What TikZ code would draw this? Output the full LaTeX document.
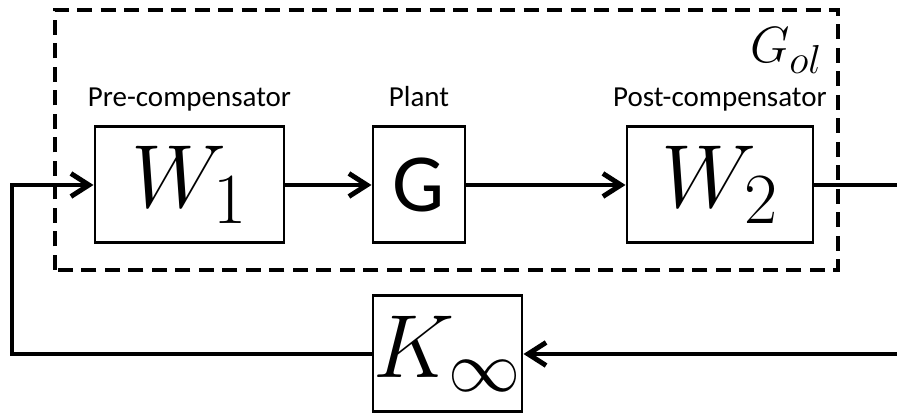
\RequirePackage{fix-cm}
\documentclass[tikz,border=0pt]{standalone}
\usepackage{amsmath}
\usepackage{fontspec}
\setmainfont{Carlito}
\usepackage{tikz}
\usetikzlibrary{positioning,arrows.meta,calc}
\definecolor{wirecol}{HTML}{000000}
\DeclareMathSizes{51}{51}{41}{33}
\DeclareMathSizes{29}{29}{23}{18}

\begin{document}
\begin{tikzpicture}[
        block/.style={rectangle, draw=wirecol, line width=1.7pt,
          minimum height=2.32cm, inner sep=0pt},
        bigmath/.style={font=\fontsize{51}{55}\selectfont},
        caption/.style={font=\fontsize{16.5}{18}\selectfont, anchor=base},
        wire/.style={draw=wirecol, line width=2.8pt},
        arr/.style={wire, -{Straight Barb[length=3.6mm, width=4.6mm]}},
        groupbox/.style={draw=wirecol, line width=2.5pt,
          dash pattern=on 0.3cm off 0.17cm},
      ]
      \useasboundingbox (0,0) rectangle (17.94,8.32);

      % forward path
      \node[block, bigmath, minimum width=3.78cm] (w1) at (3.79,4.62) {$W_1$};
      \node[block, minimum width=1.84cm,
        font=\fontsize{47}{50}\selectfont] (plant) at (8.38,4.62) {G};
      \node[block, bigmath, minimum width=3.72cm] (w2) at (14.4,4.62) {$W_2$};

      \node[caption] (w1txt) at (3.79,6.18) {Pre-compensator};
      \node[caption] (planttxt) at (8.38,6.18) {Plant};
      \node[caption] (w2txt) at (14.4,6.18) {Post-compensator};

      % open loop group
      \draw[groupbox] (1.1,2.92) rectangle (16.76,8.12);
      \node[font=\fontsize{29}{32}\selectfont, anchor=base] (golabel)
        at (15.72,7.06) {$G_{ol}$};

      \draw[arr] (w1) -- (plant);
      \draw[arr] (plant) -- (w2);

      % feedback path
      \node[block, bigmath, minimum width=2.98cm] (kinf) at (8.95,1.24) {$K_\infty$};
      \coordinate (fbR) at (18.02,4.62);
      \coordinate (fbL) at (0.24,4.62);

      \draw[arr] (w2.east) -- (fbR) |- (kinf.east);
      \draw[arr] (kinf.west) -| (fbL) -- (w1.west);
    \end{tikzpicture}
\end{document}
